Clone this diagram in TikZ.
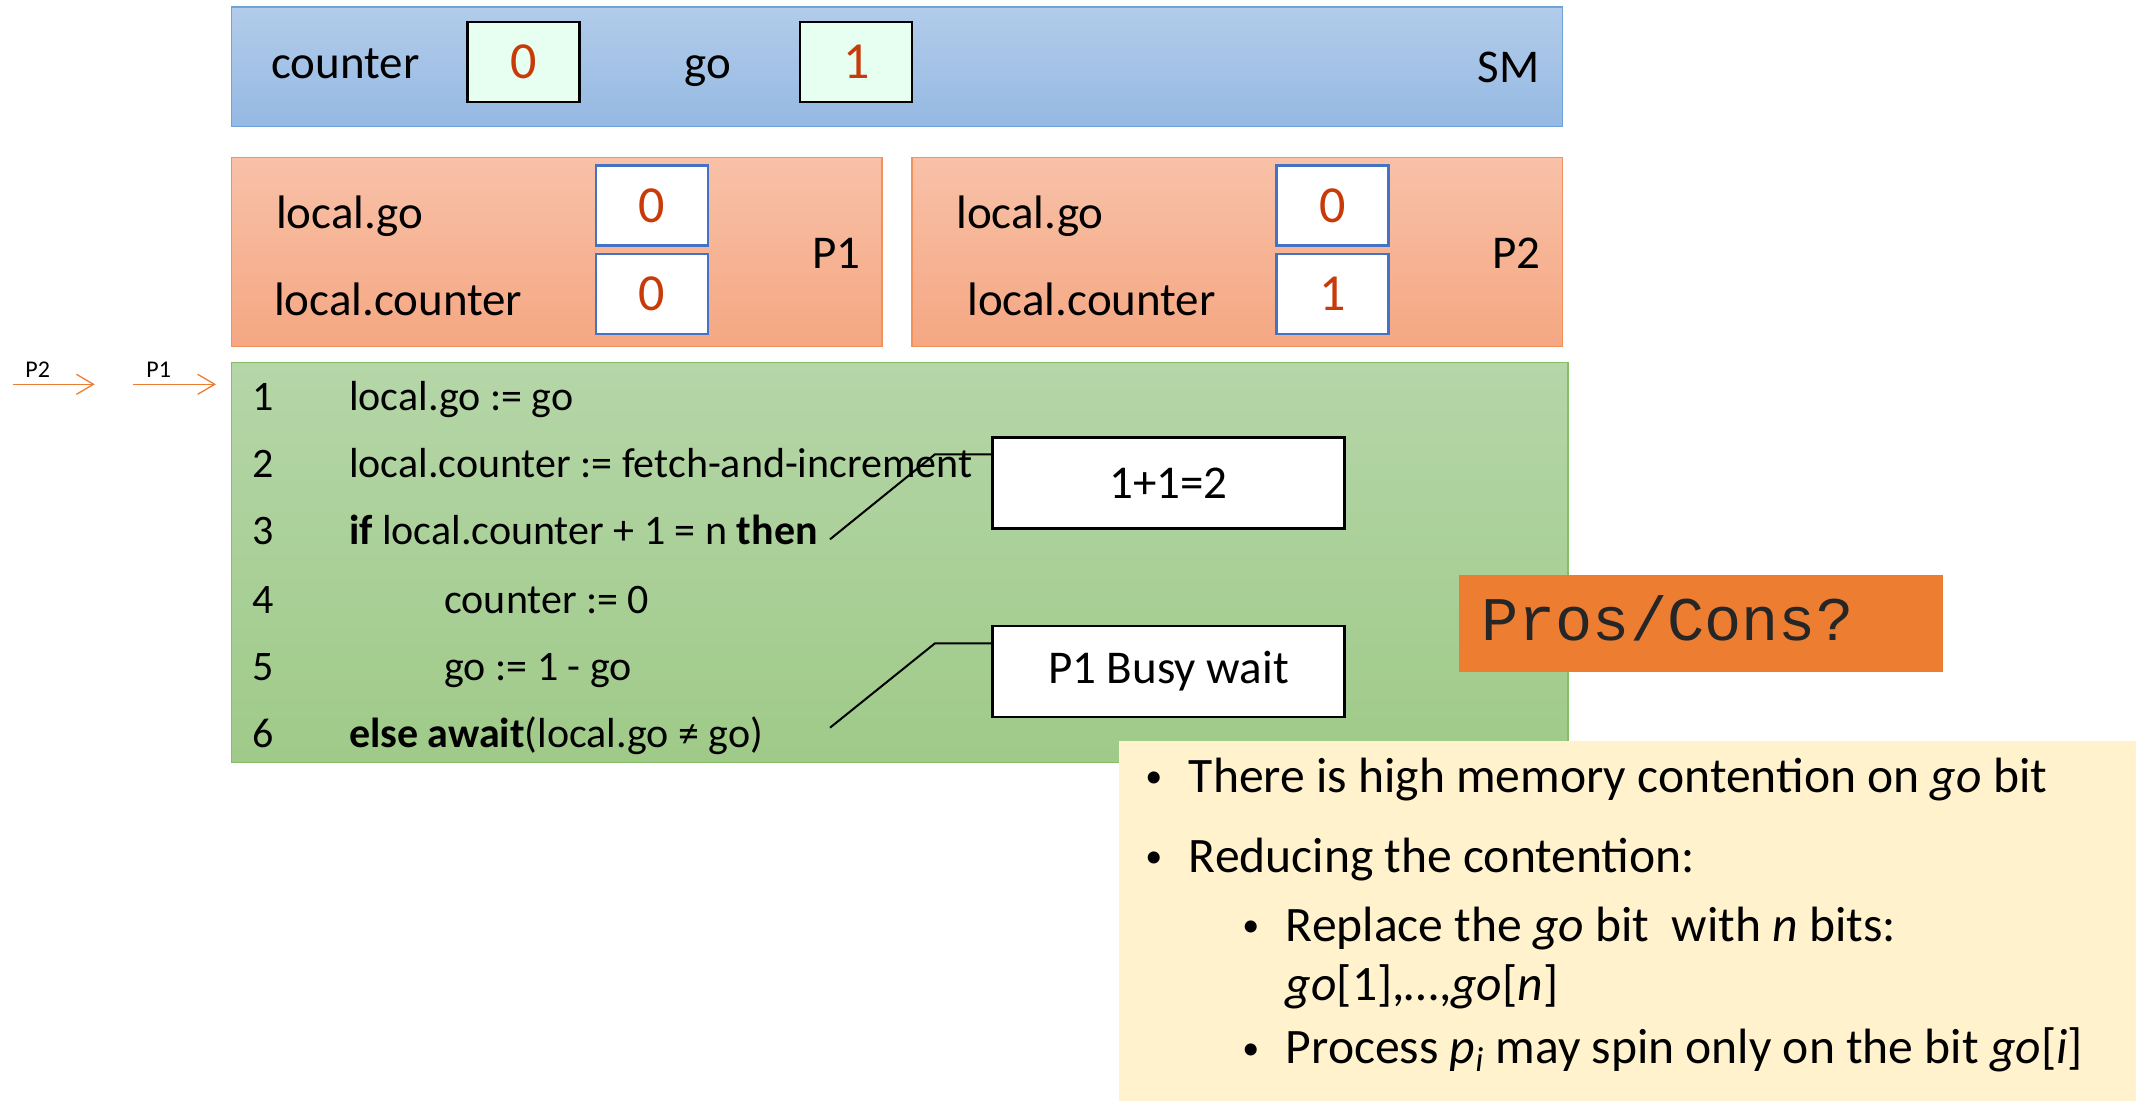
\documentclass[tikz,border=0pt]{standalone}
\usepackage{fontspec}
\setmainfont{Carlito}
\newfontfamily\monof{Liberation Mono}
\usetikzlibrary{arrows.meta}
\definecolor{smtop}{HTML}{B2CCEA}
\definecolor{smbot}{HTML}{95B9E3}
\definecolor{smborder}{HTML}{6FA2D9}
\definecolor{ptop}{HTML}{F8C1A8}
\definecolor{pbot}{HTML}{F5A782}
\definecolor{pborder}{HTML}{F0925A}
\definecolor{gtop}{HTML}{B5D6A8}
\definecolor{gbot}{HTML}{9FCA88}
\definecolor{gborder}{HTML}{86BD68}
\definecolor{mint}{HTML}{E6FFF0}
\definecolor{valred}{HTML}{C83A08}
\definecolor{pblue}{HTML}{4472C4}
\definecolor{arrowor}{HTML}{ED7D31}
\definecolor{proor}{HTML}{ED7D31}
\definecolor{proink}{HTML}{262626}
\definecolor{yel}{HTML}{FFF2CC}
\tikzset{
  lbl/.style={anchor=base west, inner sep=0pt, font=\fontsize{23.5}{28}\selectfont},
  codeln/.style={anchor=base west, inner sep=0pt, font=\fontsize{21}{25}\selectfont},
  valtop/.style={draw=black, line width=1.2pt, fill=mint, minimum width=56pt, minimum height=40pt, inner sep=0pt, text=valred, font=\fontsize{26}{30}\selectfont},
  valp/.style={draw=pblue, line width=1.3pt, fill=white, minimum width=56pt, minimum height=40pt, inner sep=0pt, text=valred, font=\fontsize{26}{30}\selectfont},
  callout/.style={draw=black, line width=1.3pt, fill=white, minimum width=175.9pt, minimum height=45.5pt, inner sep=0pt, font=\fontsize{23.5}{28}\selectfont},
  ptr/.style={draw=black, line width=1pt},
  procarrow/.style={draw=arrowor, line width=0.65pt, -{Straight Barb[length=8.5pt,width=10pt]}},
  arrlbl/.style={anchor=base west, inner sep=0pt, font=\fontsize{12}{14}\selectfont},
  bul/.style={anchor=base west, inner sep=0pt, font=\fontsize{24.8}{30}\selectfont},
  bulmark/.style={anchor=base west, inner sep=0pt, yshift=2.4pt, font=\fontsize{17}{20}\selectfont},
}
\begin{document}
\begin{tikzpicture}[x=0.5pt,y=-0.5pt]
\useasboundingbox (0,0) rectangle (2136,1101);

% shared memory
\path[top color=smtop, bottom color=smbot, draw=smborder, line width=0.8pt] (231.5,6.8) rectangle (1562.5,126.7);
\node[lbl] (tcounter) at (271,78.3) {counter};
\node[valtop] (vcounter) at (523.3,62) {0};
\node[lbl] (tgo) at (684,78.3) {go};
\node[valtop] (vgo) at (856.2,62) {1};
\node[lbl, anchor=base east] (tsm) at (1540,83) {SM};

% processes
\path[top color=ptop, bottom color=pbot, draw=pborder, line width=0.8pt] (231.5,157.7) rectangle (881.8,346.7);
\path[top color=ptop, bottom color=pbot, draw=pborder, line width=0.8pt] (912,157.7) rectangle (1562.5,346.7);
\node[lbl] (p1go) at (275.7,228.3) {local.go};
\node[lbl] (p1counter) at (273.6,316) {local.counter};
\node[valp] (p1vgo) at (652,205.5) {0};
\node[valp] (p1vcounter) at (652,294.2) {0};
\node[lbl, anchor=base east] (p1name) at (861,268.3) {P1};
\node[lbl] (p2go) at (956,228.3) {local.go};
\node[lbl] (p2counter) at (967,316) {local.counter};
\node[valp] (p2vgo) at (1332.6,205.5) {0};
\node[valp] (p2vcounter) at (1332.6,294.2) {1};
\node[lbl, anchor=base east] (p2name) at (1540.5,268.3) {P2};

% program counters
\coordinate (p2s) at (12.6,384.3);
\coordinate (p2e) at (94.7,384.3);
\coordinate (p1s) at (133.3,384.3);
\coordinate (p1e) at (216,384.3);
\draw[procarrow] (p2s) -- (p2e);
\draw[procarrow] (p1s) -- (p1e);
\node[arrlbl] (lp2) at (25,377.7) {P2};
\node[arrlbl] (lp1) at (146,377.7) {P1};

% code
\path[top color=gtop, bottom color=gbot, draw=gborder, line width=0.7pt] (231.5,362.3) rectangle (1568,762.7);
\node[codeln] (n1) at (252.5,411) {1};
\node[codeln] (n2) at (252.5,477.7) {2};
\node[codeln] (n3) at (252.5,544.3) {3};
\node[codeln] (n4) at (252.5,613.3) {4};
\node[codeln] (n5) at (252.5,680.7) {5};
\node[codeln] (n6) at (252.5,747.3) {6};
\node[codeln] (c1) at (348.7,411) {local.go := go};
\node[codeln] (c2) at (348.7,477.7) {local.counter := fetch-and-increment};
\node[codeln] (c3) at (348.7,544.3) {\textbf{if} local.counter + 1 = n \textbf{then}};
\node[codeln] (c4) at (444,613.3) {counter := 0};
\node[codeln] (c5) at (444,680.7) {go := 1 - go};
\node[codeln] (c6) at (348.7,747.3) {\textbf{else await}(local.go ≠ go)};

% callouts
\node[callout] (k1) at (1168.5,482.8) {1+1=2};
\node[callout] (k2) at (1168.5,671.5) {P1 Busy wait};
\coordinate (t1) at (830,539.3);
\coordinate (e1) at (935,454.3);
\coordinate (t2) at (830,727.7);
\coordinate (e2) at (935,643.3);
\draw[ptr] (t1) -- (e1) -- (k1.west |- e1);
\draw[ptr] (t2) -- (e2) -- (k2.west |- e2);

% pros/cons
\node[fill=proor, minimum width=242.45pt, minimum height=48.35pt, inner sep=0pt] (pc) at (1701,623.2) {};
\node[anchor=base west, inner sep=0pt, text=proink, font=\monof\fontsize{31}{36}\selectfont] (pctext) at (1480.8,640.4) {Pros/Cons?};

% notes
\path[fill=yel] (1119.3,741.2) rectangle (2136,1101);
\node[bulmark] (b1) at (1145,792) {•};
\node[bul] (b1t) at (1188.5,792) {There is high memory contention on \textit{go} bit};
\node[bulmark] (b2) at (1145,872.3) {•};
\node[bul] (b2t) at (1188.5,872.3) {Reducing the contention:};
\node[bulmark] (b3) at (1242,941.3) {•};
\node[bul] (b3t) at (1285.5,941.3) {Replace the \textit{go} bit\ \ with \textit{n} bits:};
\node[bul] (b3u) at (1285.5,1000) {\textit{go}[1],…,\textit{go}[\textit{n}]};
\node[bulmark] (b4) at (1242,1063.8) {•};
\node[bul] (b4t) at (1285.5,1063.8) {Process \textit{p}\textsubscript{\textit{i}} may spin only on the bit \textit{go}[\textit{i}]};
\end{tikzpicture}
\end{document}
